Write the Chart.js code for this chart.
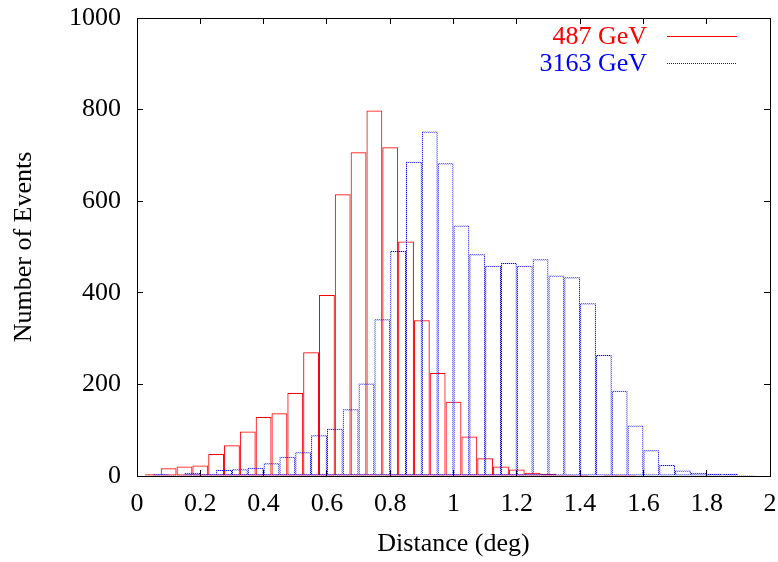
<!DOCTYPE html>
<html>
<head>
<meta charset="utf-8">
<script src="https://cdn.jsdelivr.net/npm/chart.js@4.4.0/dist/chart.umd.min.js"></script>
<style>
  html, body { margin: 0; padding: 0; background: #fff; }
  #wrap { width: 778px; height: 562px; }
</style>
</head>
<body>
<div id="wrap"><canvas id="distChart" width="778" height="562"></canvas></div>
<script>
// bin centres (deg) and event counts
const lowCenters = [0.05, 0.10, 0.15, 0.20, 0.25, 0.30, 0.35, 0.40, 0.45, 0.50,
  0.55, 0.60, 0.65, 0.70, 0.75, 0.80, 0.85, 0.90, 0.95, 1.00,
  1.05, 1.10, 1.15, 1.20, 1.25, 1.30, 1.35, 1.40, 1.45, 1.50,
  1.55, 1.60, 1.65, 1.70, 1.75, 1.80, 1.85, 1.90, 1.95];
const lowCounts = [4, 17, 21, 23, 48, 67, 97, 129, 137, 181,
  270, 395, 615, 707, 798, 718, 512, 340, 225, 162,
  86, 39, 21, 14, 7, 5, 3, 2, 1, 2,
  2, 1, 0, 0, 0, 0, 0, 0, 0];

const highCenters = [0.025, 0.075, 0.125, 0.175, 0.225, 0.275, 0.325, 0.375, 0.425, 0.475,
  0.525, 0.575, 0.625, 0.675, 0.725, 0.775, 0.825, 0.875, 0.925, 0.975,
  1.025, 1.075, 1.125, 1.175, 1.225, 1.275, 1.325, 1.375, 1.425, 1.475,
  1.525, 1.575, 1.625, 1.675, 1.725, 1.775, 1.825, 1.875, 1.925, 1.975];
const highCounts = [0, 4, 2, 7, 4, 13, 15, 18, 28, 42,
  52, 89, 103, 146, 202, 342, 491, 686, 752, 683,
  547, 484, 459, 465, 459, 473, 438, 434, 377, 264,
  186, 110, 56, 24, 12, 7, 5, 5, 2, 0];

const xTicks = [0, 0.2, 0.4, 0.6, 0.8, 1, 1.2, 1.4, 1.6, 1.8, 2];
const yTicks = [0, 200, 400, 600, 800, 1000];

const seriesLabels = ["487 GeV", "3163 GeV"];

Chart.defaults.font.family = '"Liberation Serif", "Times New Roman", serif';
Chart.defaults.font.size = 26;
Chart.defaults.color = "#000";

// dotted outline for the blue boxes
function dotPattern(color, gap) {
  const c = document.createElement("canvas");
  c.width = 2;
  c.height = 2;
  const g = c.getContext("2d");
  g.fillStyle = gap;
  g.fillRect(0, 0, 2, 2);
  g.clearRect(0, 0, 1, 1);
  g.clearRect(1, 1, 1, 1);
  g.fillStyle = color;
  g.fillRect(0, 0, 1, 1);
  g.fillRect(1, 1, 1, 1);
  return g.createPattern(c, "repeat");
}

const toPoints = (xs, ys) => xs.map((x, i) => ({ x: x, y: ys[i] }));

// legend drawn inside the plot: text right aligned, sample line to its right
const insideLegend = {
  id: "insideLegend",
  afterDatasetsDraw(chart) {
    const ctx = chart.ctx;
    ctx.save();
    ctx.font = '26px "Liberation Serif", "Times New Roman", serif';
    ctx.textAlign = "right";
    ctx.textBaseline = "middle";
    chart.data.datasets.forEach((ds, i) => {
      const y = 37 + i * 27;
      ctx.fillStyle = ds.legendColor;
      ctx.fillText(ds.label, 647, y);
      ctx.beginPath();
      ctx.strokeStyle = ds.legendColor;
      ctx.lineWidth = 1;
      ctx.setLineDash(ds.legendDash);
      ctx.moveTo(667, Math.round(y) - 0.5);
      ctx.lineTo(737, Math.round(y) - 0.5);
      ctx.stroke();
    });
    ctx.restore();
  }
};

const hiddenLabels = { display: false };
const inwardGrid = {
  drawOnChartArea: false,
  color: "#000",
  tickLength: -6,
  offset: false
};

// keep the plot box fixed: no extra room for overhanging edge labels
const fixX = (h) => (s) => { s.height = h; s.paddingLeft = 0; s.paddingRight = 0; };
const fixY = (w) => (s) => { s.width = w; s.paddingTop = 0; s.paddingBottom = 0; };

new Chart(document.getElementById("distChart"), {
  type: "bar",
  data: {
    datasets: [
      {
        label: seriesLabels[0],
        data: toPoints(lowCenters, lowCounts),
        xAxisID: "x",
        yAxisID: "y",
        order: 1,
        backgroundColor: "rgba(0,0,0,0)",
        borderColor: "#ff0000",
        borderWidth: 1,
        borderSkipped: false,
        legendColor: "#ff0000",
        legendDash: []
      },
      {
        label: seriesLabels[1],
        data: toPoints(highCenters, highCounts),
        xAxisID: "x2",
        yAxisID: "y",
        order: 0,
        backgroundColor: "rgba(0,0,0,0)",
        borderColor: dotPattern("#0000ff", "rgba(0,0,255,0.3)"),
        borderWidth: 1,
        borderSkipped: false,
        legendColor: "#0000ff",
        legendDash: [1, 1]
      }
    ]
  },
  options: {
    responsive: false,
    animation: false,
    layout: { padding: 0 },
    datasets: {
      bar: {
        grouped: false,
        barPercentage: 1,
        categoryPercentage: 1,
        inflateAmount: 0
      }
    },
    plugins: {
      legend: { display: false },
      tooltip: { enabled: false }
    },
    scales: {
      x: {
        type: "linear",
        position: "bottom",
        min: 0,
        max: 2,
        offset: false,
        grid: inwardGrid,
        border: { color: "#000", width: 1 },
        afterBuildTicks: (s) => { s.ticks = xTicks.map((v) => ({ value: v })); },
        afterFit: fixX(86),
        ticks: {
          padding: 19,
          maxRotation: 0,
          autoSkip: false,
          callback: (v) => String(v)
        },
        title: {
          display: true,
          text: "Distance (deg)",
          padding: { top: 0, bottom: 2 }
        }
      },
      x2: {
        type: "linear",
        position: "top",
        min: 0,
        max: 2,
        offset: false,
        grid: inwardGrid,
        border: { color: "#000", width: 1 },
        afterBuildTicks: (s) => { s.ticks = xTicks.map((v) => ({ value: v })); },
        afterFit: fixX(18),
        ticks: hiddenLabels
      },
      y: {
        type: "linear",
        position: "left",
        min: 0,
        max: 1000,
        grid: inwardGrid,
        border: { color: "#000", width: 1 },
        afterBuildTicks: (s) => { s.ticks = yTicks.map((v) => ({ value: v })); },
        afterFit: fixY(137),
        ticks: {
          padding: 22,
          callback: (v) => String(v)
        },
        title: {
          display: true,
          text: "Number of Events",
          padding: { top: 9, bottom: 0 }
        }
      },
      y2: {
        type: "linear",
        position: "right",
        min: 0,
        max: 1000,
        grid: inwardGrid,
        border: { color: "#000", width: 1 },
        afterBuildTicks: (s) => { s.ticks = yTicks.map((v) => ({ value: v })); },
        afterFit: fixY(8),
        ticks: hiddenLabels
      }
    }
  },
  plugins: [insideLegend]
});
</script>
</body>
</html>
